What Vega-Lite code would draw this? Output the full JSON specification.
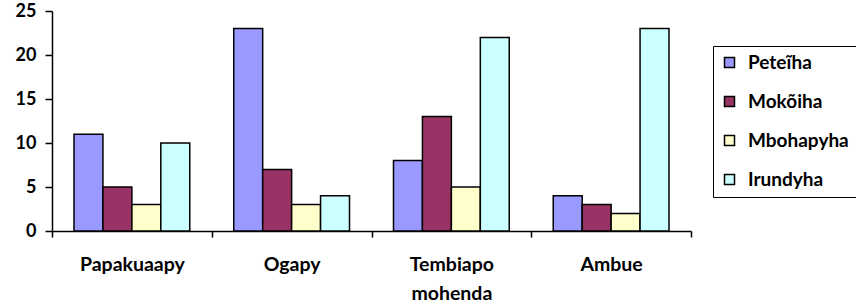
{
  "$schema": "https://vega.github.io/schema/vega-lite/v6.json",
  "width": 639,
  "height": 220,
  "autosize": {"type": "none"},
  "padding": {"left": 52, "top": 11, "right": 165, "bottom": 76},
  "background": "white",
  "config": {"view": {"stroke": null}, "font": "Lato"},
  "data": {
    "values": [
      {"cat": "Papakuaapy", "series": "Peteĩha", "value": 11},
      {"cat": "Papakuaapy", "series": "Mokõiha", "value": 5},
      {"cat": "Papakuaapy", "series": "Mbohapyha", "value": 3},
      {"cat": "Papakuaapy", "series": "Irundyha", "value": 10},
      {"cat": "Ogapy", "series": "Peteĩha", "value": 23},
      {"cat": "Ogapy", "series": "Mokõiha", "value": 7},
      {"cat": "Ogapy", "series": "Mbohapyha", "value": 3},
      {"cat": "Ogapy", "series": "Irundyha", "value": 4},
      {"cat": "Tembiapo mohenda", "series": "Peteĩha", "value": 8},
      {"cat": "Tembiapo mohenda", "series": "Mokõiha", "value": 13},
      {"cat": "Tembiapo mohenda", "series": "Mbohapyha", "value": 5},
      {"cat": "Tembiapo mohenda", "series": "Irundyha", "value": 22},
      {"cat": "Ambue", "series": "Peteĩha", "value": 4},
      {"cat": "Ambue", "series": "Mokõiha", "value": 3},
      {"cat": "Ambue", "series": "Mbohapyha", "value": 2},
      {"cat": "Ambue", "series": "Irundyha", "value": 23}
    ]
  },
  "mark": {"type": "bar", "stroke": "black", "strokeWidth": 1.5},
  "encoding": {
    "x": {
      "field": "cat",
      "type": "nominal",
      "sort": ["Papakuaapy", "Ogapy", "Tembiapo mohenda", "Ambue"],
      "scale": {"paddingInner": 0, "paddingOuter": 0},
      "axis": {
        "title": null,
        "labelAngle": 0,
        "labelFont": "Lato",
        "labelFontWeight": "bold",
        "labelFontSize": 19.5,
        "labelColor": "black",
        "labelPadding": 18,
        "labelLineHeight": 29,
        "labelExpr": "split(datum.label, ' ')",
        "domainColor": "black",
        "domainWidth": 1.5,
        "tickColor": "black",
        "tickWidth": 1.5,
        "tickSize": 6,
        "tickBand": "extent"
      }
    },
    "xOffset": {
      "field": "series",
      "type": "nominal",
      "sort": ["Peteĩha", "Mokõiha", "Mbohapyha", "Irundyha"],
      "scale": {"paddingInner": 0, "paddingOuter": 0.76}
    },
    "y": {
      "field": "value",
      "type": "quantitative",
      "scale": {"domain": [0, 25], "nice": false},
      "axis": {
        "title": null,
        "values": [0, 5, 10, 15, 20, 25],
        "grid": false,
        "labelFont": "Lato",
        "labelFontWeight": "bold",
        "labelFontSize": 18,
        "labelColor": "black",
        "labelPadding": 9,
        "domainColor": "black",
        "domainWidth": 1.5,
        "tickColor": "black",
        "tickWidth": 1.5,
        "tickSize": 7
      }
    },
    "color": {
      "field": "series",
      "type": "nominal",
      "sort": ["Peteĩha", "Mokõiha", "Mbohapyha", "Irundyha"],
      "scale": {
        "domain": ["Peteĩha", "Mokõiha", "Mbohapyha", "Irundyha"],
        "range": ["#9999FF", "#993366", "#FFFFCC", "#CCFFFF"]
      },
      "legend": {
        "title": null,
        "orient": "none",
        "legendX": 661,
        "legendY": 35,
        "strokeColor": "black",
        "padding": 7,
        "symbolType": "square",
        "symbolSize": 100,
        "symbolStrokeColor": "black",
        "symbolStrokeWidth": 1.5,
        "symbolOpacity": 1,
        "labelFont": "Lato",
        "labelFontWeight": "bold",
        "labelFontSize": 19,
        "labelColor": "black",
        "labelOffset": 9,
        "rowPadding": 19
      }
    }
  }
}
